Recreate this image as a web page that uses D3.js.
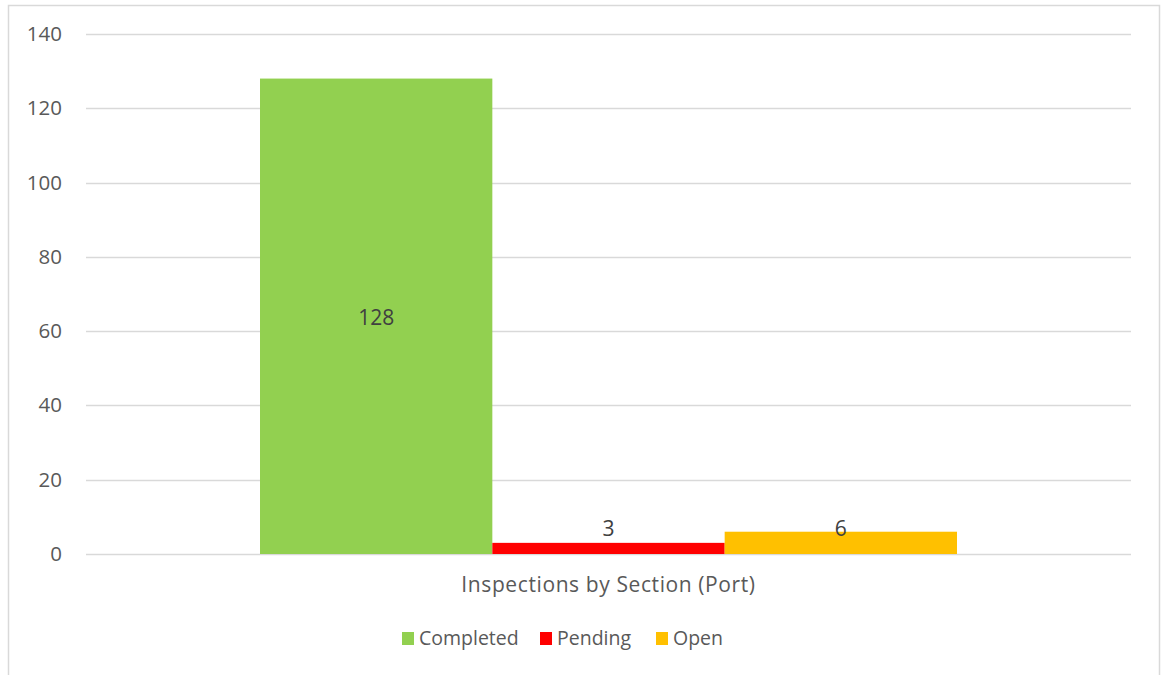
<!DOCTYPE html>
<html>
<head>
<meta charset="utf-8">
<script src="https://cdn.jsdelivr.net/npm/d3@7"></script>
<style>
  body { margin: 0; background: #fff; }
  svg { font-family: 'Open Sans', 'Liberation Sans', sans-serif; }
</style>
</head>
<body>
<div id="chart"></div>
<script>
// Data
var category = 'Inspections by Section (Port)';
var seriesNames = ['Completed', 'Pending', 'Open'];
var seriesValues = [128, 3, 6];
var seriesColors = ['#92d050', '#ff0000', '#ffc000'];
var yTicks = [0, 20, 40, 60, 80, 100, 120, 140];

var width = 1161, height = 675;
var svg = d3.select('#chart').append('svg')
  .attr('width', width)
  .attr('height', height);

// Chart frame
svg.append('rect')
  .attr('x', 8.5).attr('y', 5.5)
  .attr('width', 1151).attr('height', 680)
  .style('fill', '#fff')
  .style('stroke', '#d9d9d9')
  .style('stroke-width', 1.5);

var plotLeft = 86, plotRight = 1131, plotTop = 34, plotBottom = 554;

var y = d3.scaleLinear().domain([0, 140]).range([plotBottom, plotTop]);

// Outer band for the single category, inner band for the series
var x0 = d3.scaleBand().domain([category]).range([plotLeft, plotRight])
  .paddingInner(0).paddingOuter(0.2);
var x1 = d3.scaleBand().domain(seriesNames)
  .range([plotLeft + 174, plotRight - 174]).padding(0);

// Gridlines
svg.append('g').selectAll('line')
  .data(yTicks)
  .enter()
  .append('line')
  .attr('x1', plotLeft).attr('x2', plotRight)
  .attr('y1', function(d) { return Math.round(y(d)) + 0.5; })
  .attr('y2', function(d) { return Math.round(y(d)) + 0.5; })
  .style('stroke', '#d9d9d9')
  .style('stroke-width', 1.5);

// Y axis labels
var yAxis = d3.axisLeft(y).tickValues(yTicks).tickSize(0).tickPadding(0);
var yg = svg.append('g')
  .attr('transform', 'translate(62,0)')
  .call(yAxis);
yg.select('.domain').remove();
yg.attr('font-family', null).attr('font-size', null);
yg.selectAll('text')
  .style('font-size', '20.5px')
  .style('fill', '#595959');

// Bars
svg.append('g').selectAll('rect')
  .data(seriesNames)
  .enter()
  .append('rect')
  .attr('x', function(d) { return x1(d); })
  .attr('width', x1.bandwidth())
  .attr('y', function(d, i) { return y(seriesValues[i]); })
  .attr('height', function(d, i) { return y(0) - y(seriesValues[i]); })
  .style('fill', function(d, i) { return seriesColors[i]; });

// Data labels: centred in tall bars, just above the short ones
svg.append('g').selectAll('text')
  .data(seriesNames)
  .enter()
  .append('text')
  .attr('x', function(d) { return x1(d) + x1.bandwidth() / 2; })
  .attr('y', function(d, i) {
    var v = seriesValues[i];
    return v > 20 ? y(v / 2) + 8.5 : y(0) - 18;
  })
  .style('text-anchor', 'middle')
  .style('font-size', '21px')
  .style('fill', '#404040')
  .text(function(d, i) { return seriesValues[i]; });

// Category label under the axis
svg.append('text')
  .attr('x', x0(category) + x0.bandwidth() / 2)
  .attr('y', 592)
  .style('text-anchor', 'middle')
  .style('font-size', '21px')
  .style('letter-spacing', '0.6px')
  .style('fill', '#595959')
  .text(category);

// Legend
var legendX = [402, 540, 656];
var legend = svg.append('g').selectAll('g')
  .data(seriesNames)
  .enter()
  .append('g')
  .attr('transform', function(d, i) { return 'translate(' + legendX[i] + ',632)'; });
legend.append('rect')
  .attr('width', 12).attr('height', 13)
  .style('fill', function(d, i) { return seriesColors[i]; });
legend.append('text')
  .attr('x', 17).attr('y', 13)
  .style('font-size', '19.5px')
  .style('fill', '#595959')
  .text(function(d) { return d; });
</script>
</body>
</html>
